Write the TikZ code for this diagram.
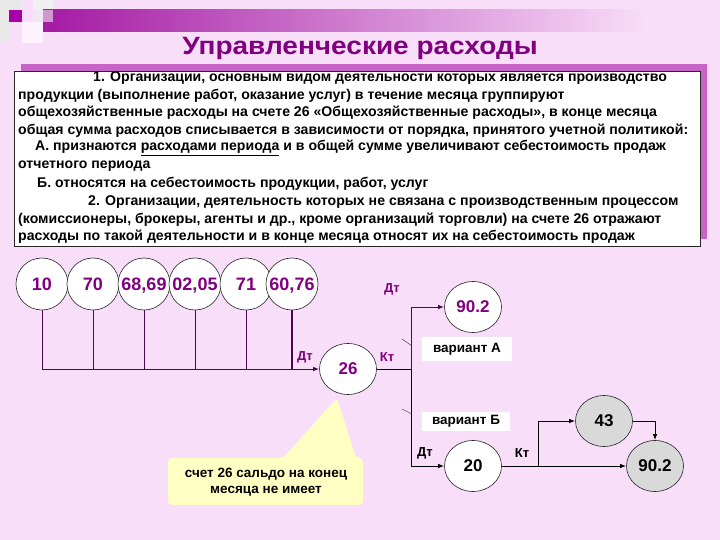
\documentclass[tikz,border=0pt]{standalone}
\usepackage{fontspec}
\setmainfont{Liberation Sans}
\usetikzlibrary{arrows.meta,shapes.geometric}
\definecolor{bg}{HTML}{F9DEF9}
\definecolor{pur}{HTML}{800080}
\definecolor{dpur}{HTML}{4A0A4A}
\definecolor{shpur}{HTML}{C864C8}
\definecolor{callout}{HTML}{FFFFC4}
\definecolor{greyfill}{HTML}{D9D9D9}
\definecolor{barpur}{HTML}{A41AA4}
\newcommand{\fs}[1]{\fontsize{#1}{#1}\selectfont}
\begin{document}
\begin{tikzpicture}[x=1pt,y=-1pt,
  circ/.style={ellipse, draw=black!85, fill=white, line width=0.6pt, inner sep=0pt,
     minimum width=52pt, minimum height=52pt,
     label={[inner sep=0pt, text height=12.9pt, text depth=0pt, font=\bfseries\fs{18}, text=pur]center:#1}},
  bigc/.style={ellipse, draw=black!85, fill=white, line width=0.6pt, inner sep=0pt,
     minimum width=57pt, minimum height=51pt, font=\bfseries\fs{17}, text=pur},
  greyc/.style={bigc, fill=greyfill, text=black},
  txt/.style={anchor=west, inner sep=0pt, font=\bfseries\fs{14.1}},
  lbl/.style={inner sep=0pt, font=\bfseries\fs{13}},
  plink/.style={draw=dpur, line width=1pt},
  blink/.style={draw=black, line width=1pt},
  tip/.style={-{Latex[length=6pt,width=4.5pt]}},
  varbox/.style={fill=white, inner sep=0pt, font=\bfseries\fs{13.5}},
]
\useasboundingbox (0,0) rectangle (720,540);
\fill[bg] (0,0) rectangle (720,540);
% decorations
\fill[gray!18] (0,0) rectangle (22,10);
\fill[gray!18] (0,10) rectangle (9,42);
\fill[gray!12] (33,0) rectangle (53,10);
\fill[barpur, left color=barpur, right color=bg] (43,10) rectangle (650,32);
\fill[gray!15, opacity=0.6] (33,10) rectangle (53,22);
\fill[white!60!bg] (22,22) rectangle (43,43);
\fill[pur!70!magenta] (9,10) rectangle (22,22);
% title
\node (title) [font=\bfseries\fs{25}, text=pur, xscale=1.12] at (360,48) {Управленческие расходы};
% text box
\fill[shpur] (21,64) rectangle (707,239);
\filldraw[fill=white, draw=black!85, line width=0.8pt] (14,71) rectangle (700,246);
\node (l1) [txt] at (93,78) {1. Организации, основным видом деятельности которых является производство};
\node (l2) [txt] at (18,95.5) {продукции (выполнение работ, оказание услуг) в течение месяца группируют};
\node (l3) [txt] at (18,113) {общехозяйственные расходы на счете 26 «Общехозяйственные расходы», в конце месяца};
\node (l4) [txt] at (18,130.5) {общая сумма расходов списывается в зависимости от порядка, принятого учетной политикой:};
\node (l5) [txt] at (35,148) {А. признаются \underline{расходами периода} и в общей сумме увеличивают себестоимость продаж};
\node (l6) [txt] at (18,166) {отчетного периода};
\node (l7) [txt] at (37,184) {Б. относятся на себестоимость продукции, работ, услуг};
\node (l8) [txt] at (88,202) {2. Организации, деятельность которых не связана с производственным процессом};
\node (l9) [txt] at (18,219.5) {(комиссионеры, брокеры, агенты и др., кроме организаций торговли) на счете 26 отражают};
\node (l10) [txt] at (18,237) {расходы по такой деятельности и в конце месяца относят их на себестоимость продаж};
% callout
\fill[callout, rounded corners=4pt] (168,458) -- (283,458) -- (337,398) -- (356,458) -- (363,458) -- (363,505) -- (168,505) -- cycle;
\node (note) [align=center, inner sep=0pt, font=\bfseries\fs{13.5}] at (266,482) {счет 26 сальдо на конец\\[2pt]месяца не имеет};
% top circles
\node (c10) [circ=10] at (42,284) {};
\node (c70) [circ=70] at (93,284) {};
\node (c6869) [circ={68,69}] at (144,284) {};
\node (c0205) [circ={02,05}] at (195,284) {};
\node (c71) [circ=71] at (246,284) {};
\node (c6076) [circ={60,76}] at (292,284) {};
\node (n26) [bigc] at (348,369) {26};
\node (t902) [bigc] at (473,307) {90.2};
\node (n20) [bigc, text=black] at (473,466) {20};
\node (n43) [greyc] at (604,421) {43};
\node (g902) [greyc] at (655,466) {90.2};
% connectors top
\draw[plink, tip] (c10.south) -- (c10.south |- n26.west) -- (n26.west);
\foreach \c in {c70,c6869,c0205,c71} \draw[plink, line width=0.8pt] (\c.south) -- (\c.south |- n26.west);
\draw[plink, line width=1.2pt] (c6076.south) -- (c6076.south |- n26.west);
\coordinate (kv) at (411,369);
\draw[blink] (n26.east) -- (kv);
\draw[plink, tip] (kv) |- (t902.west);
\draw[blink, tip] (kv) |- (n20.west);
\coordinate (br) at (538,466);
\draw[blink, tip] (n20.east) -- (g902.west);
\draw[blink, tip] (br) |- (n43.west);
\draw[blink, tip] (n43.east) -| (g902.north);
% small ticks
\draw[dpur, line width=0.4pt] (402,339) -- (412,346);
\draw[dpur, line width=0.4pt] (402,409) -- (412,414);
% variant boxes
\node (va) [varbox, minimum width=90pt, minimum height=24pt] at (467,349) {вариант А};
\node (vb) [varbox, minimum width=88pt, minimum height=19pt] at (466,421) {вариант Б};
% labels
\node (d1) [lbl, text=pur] at (305,357) {Дт};
\node (k1) [lbl, text=pur] at (387,357) {Кт};
\node (d2) [lbl, text=pur] at (392,289) {Дт};
\node (d3) [lbl] at (425,453) {Дт};
\node (k2) [lbl] at (522,453) {Кт};
\end{tikzpicture}
\end{document}
